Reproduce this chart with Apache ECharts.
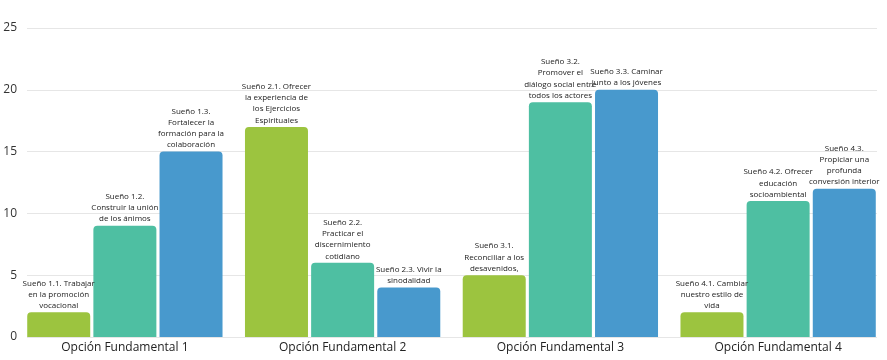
<!DOCTYPE html>
<html>
<head>
<meta charset="utf-8">
<script src="https://cdn.jsdelivr.net/npm/echarts@6/dist/echarts.min.js"></script>
<style>
html,body{margin:0;padding:0;background:#fff;}
#c{width:887px;height:360px;}
</style>
</head>
<body>
<div id="c"></div>
<script>
const categories = ['Opción Fundamental 1', 'Opción Fundamental 2', 'Opción Fundamental 3', 'Opción Fundamental 4'];
const yTicks = [0, 5, 10, 15, 20, 25];
const valuesA = [2, 17, 5, 2];
const valuesB = [9, 6, 19, 11];
const valuesC = [15, 4, 20, 12];
const labelsA = [
  'Sueño 1.1. Trabajar\nen la promoción\nvocacional',
  'Sueño 2.1. Ofrecer\nla experiencia de\nlos Ejercicios\nEspirituales',
  'Sueño 3.1.\nReconciliar a los\ndesavenidos,',
  'Sueño 4.1. Cambiar\nnuestro estilo de\nvida'
];
const labelsB = [
  'Sueño 1.2.\nConstruir la unión\nde los ánimos',
  'Sueño 2.2.\nPracticar el\ndiscernimiento\ncotidiano',
  'Sueño 3.2.\nPromover el\ndiálogo social entre\ntodos los actores',
  'Sueño 4.2. Ofrecer\neducación\nsocioambiental'
];
const labelsC = [
  'Sueño 1.3.\nFortalecer la\nformación para la\ncolaboración',
  'Sueño 2.3. Vivir la\nsinodalidad',
  'Sueño 3.3. Caminar\njunto a los jóvenes',
  'Sueño 4.3.\nPropiciar una\nprofunda\nconversión interior'
];
const colors = ['#9cc43f', '#4ebfa2', '#4899cd'];

const chart = echarts.init(document.getElementById('c'));
const font = '"Open Sans", "Noto Sans", sans-serif';

function mkSeries(vals, labels, color) {
  return {
    type: 'bar',
    xAxisIndex: 1,
    yAxisIndex: 1,
    barWidth: 63,
    barGap: '5%',
    data: vals.map((v, i) => ({ value: v, label: { formatter: labels[i] } })),
    itemStyle: { color: color, borderRadius: [4, 4, 0, 0] },
    label: {
      show: true,
      position: 'top',
      distance: 1,
      fontSize: 8,
      lineHeight: 11.2,
      color: '#222',
      fontFamily: font,
      align: 'center'
    }
  };
}

chart.setOption({
  animation: false,
  textStyle: { fontFamily: font },
  grid: [
    { left: 27, right: 10, top: 28, bottom: 23 },
    { left: 16, right: 0, top: 28, bottom: 23 }
  ],
  xAxis: [
    { gridIndex: 0, type: 'category', data: categories, show: false },
    {
      gridIndex: 1, type: 'category', data: categories,
      axisLine: { show: false }, axisTick: { show: false },
      axisLabel: { fontSize: 12, color: '#222', margin: 5, fontFamily: font }
    }
  ],
  yAxis: [
    {
      gridIndex: 0, type: 'value', min: 0, max: 25, interval: 5,
      axisLine: { show: false }, axisTick: { show: false },
      axisLabel: { fontSize: 12, color: '#333', margin: 10, fontFamily: font,
        formatter: v => yTicks.includes(v) ? String(v) : '' },
      splitLine: { lineStyle: { color: '#e6e6e6', width: 1 } }
    },
    {
      gridIndex: 1, type: 'value', min: 0, max: 25, interval: 5,
      show: false, splitLine: { show: false }
    }
  ],
  series: [
    mkSeries(valuesA, labelsA, colors[0]),
    mkSeries(valuesB, labelsB, colors[1]),
    mkSeries(valuesC, labelsC, colors[2])
  ]
});
</script>
</body>
</html>
